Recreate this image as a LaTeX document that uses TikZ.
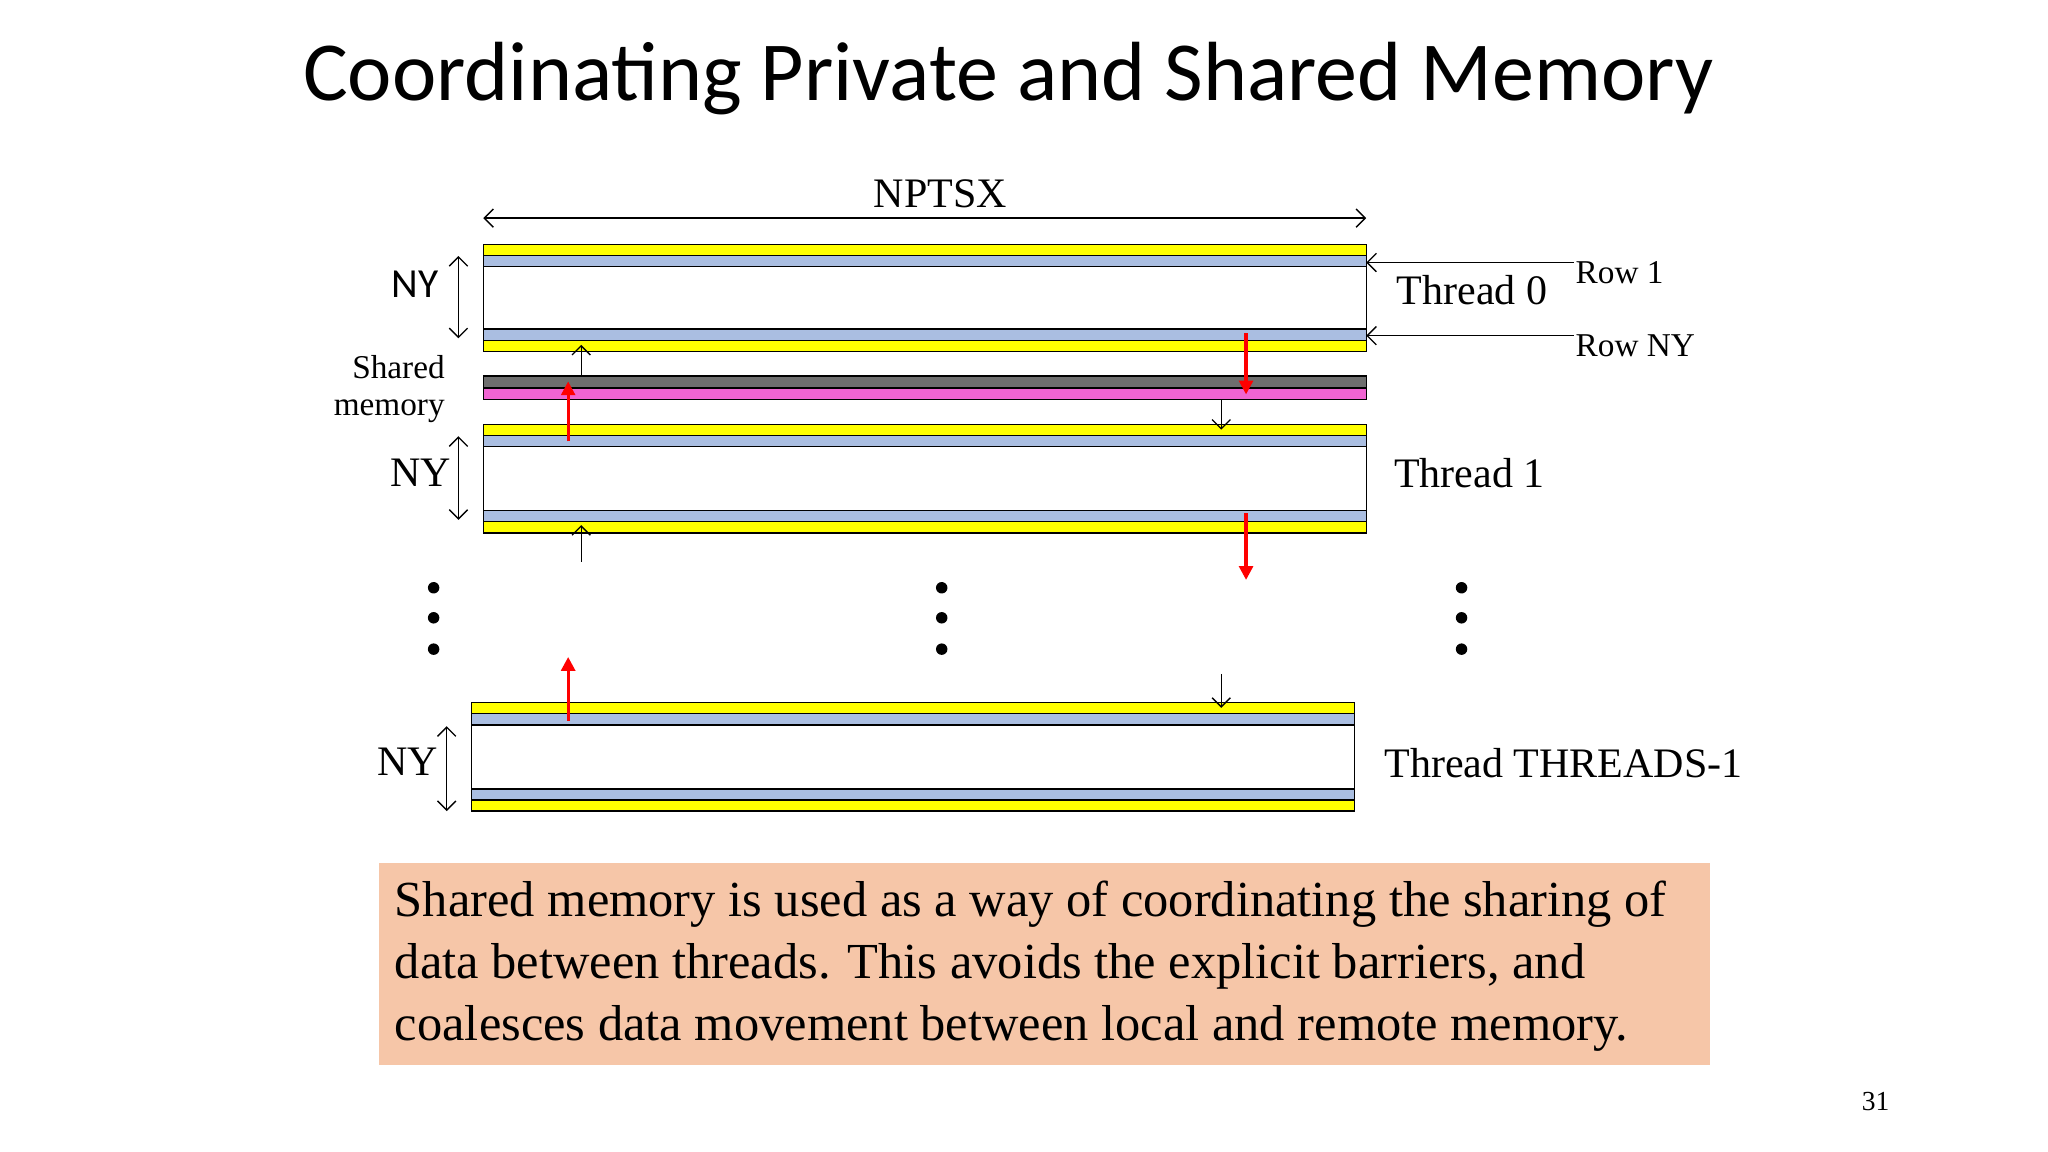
\documentclass[tikz,border=0pt]{standalone}
\usepackage{fontspec}
\setmainfont{Liberation Serif}
\newfontfamily\titlefont{Carlito}
\usetikzlibrary{arrows.meta}
\definecolor{ylw}{RGB}{255,255,0}
\definecolor{blu}{RGB}{170,190,225}
\definecolor{gry}{RGB}{110,110,110}
\definecolor{pnk}{RGB}{240,100,210}
\definecolor{peach}{RGB}{246,198,168}
\tikzset{
 strip/.style={draw=black,line width=0.6pt},
 thin/.style={-{Straight Barb[length=4pt]},line width=0.6pt},
 redar/.style={-{Triangle[length=6pt,width=6pt]},red,line width=1.4pt},
 dual/.style={{Straight Barb[length=4pt]}-{Straight Barb[length=4pt]},line width=0.6pt},
 lbl/.style={font=\fontsize{18.3}{21}\selectfont,inner sep=0pt},
 dot/.style={circle,fill=black,inner sep=0pt,minimum size=5pt}
}
\newcommand{\blockfill}[4]{%
 \fill[ylw,strip] (#1,#3) rectangle (#2,#3+8.5);
 \fill[blu,strip] (#1,#3+8.5) rectangle (#2,#3+17);
 \draw[strip] (#1,#3+17) rectangle (#2,#4-17);
 \fill[blu,strip] (#1,#4-17) rectangle (#2,#4-8.5);
 \fill[ylw,strip] (#1,#4-8.5) rectangle (#2,#4);
}
\begin{document}
\begin{tikzpicture}[x=0.02cm,y=-0.02cm]
\fill[white] (0,0) rectangle (1568,882);
\node[font=\titlefont\fontsize{36.6}{42}\selectfont] (title) at (772,60) {Coordinating Private and Shared Memory};
% NPTSX
\coordinate (nl) at (370,167); \coordinate (nr) at (1046,167);
\draw[dual] (nl) -- (nr);
\node[lbl] (npt) at (720,148) {NPTSX};
% blocks
\blockfill{370}{1046}{187}{269}
\fill[gry,strip] (370,288) rectangle (1046,297);
\fill[pnk,strip] (370,297) rectangle (1046,306);
\blockfill{370}{1046}{325}{408}
\blockfill{361}{1037}{538}{621}
% NY arrows
\coordinate (a1) at (351,196); \coordinate (b1) at (351,259);
\draw[dual] (a1) -- (b1);
\node[font=\titlefont\fontsize{18}{20}\selectfont] (ny0) at (318,218) {NY};
\coordinate (a2) at (351,334); \coordinate (b2) at (351,398);
\draw[dual] (a2) -- (b2);
\node[lbl] (ny1) at (322,362) {NY};
\coordinate (a3) at (342,556); \coordinate (b3) at (342,621);
\draw[dual] (a3) -- (b3);
\node[lbl] (ny2) at (312,583) {NY};
% rows
\coordinate (r1s) at (1205,201); \coordinate (r1e) at (1046,201);
\coordinate (r2s) at (1205,257); \coordinate (r2e) at (1046,257);
\draw[thin] (r1s) -- (r1e);
\draw[thin] (r2s) -- (r2e);
\node[font=\fontsize{14.5}{16}\selectfont] (row1) at (1240,209) {Row 1};
\node[font=\fontsize{14.5}{16}\selectfont] (rowny) at (1252,265) {Row NY};
\node[lbl] (t0) at (1127,222) {Thread 0};
\node[lbl] (t1) at (1125,362) {Thread 1};
\node[lbl] (t2) at (1197,584) {Thread THREADS-1};
\node[align=right,font=\fontsize{14.5}{16}\selectfont] (sm) at (298,298) {Shared\\memory};
% black small arrows
\coordinate (k1s) at (445,288); \coordinate (k1e) at (445,264);
\coordinate (k2s) at (935,306); \coordinate (k2e) at (935,329);
\coordinate (k3s) at (445,430); \coordinate (k3e) at (445,402);
\coordinate (k4s) at (935,516); \coordinate (k4e) at (935,542);
\foreach \s/\e in {k1s/k1e,k2s/k2e,k3s/k3e,k4s/k4e} \draw[thin] (\s) -- (\e);
% red arrows
\coordinate (q1s) at (435,338); \coordinate (q1e) at (435,292);
\coordinate (q2s) at (954,255); \coordinate (q2e) at (954,302);
\coordinate (q3s) at (954,393); \coordinate (q3e) at (954,444);
\coordinate (q4s) at (435,552); \coordinate (q4e) at (435,503);
\foreach \s/\e in {q1s/q1e,q2s/q2e,q3s/q3e,q4s/q4e} \draw[redar] (\s) -- (\e);
% dots
\foreach \x/\n in {332/a,721/b,1119/c} \foreach \y/\m in {450/1,473/2,497/3}
 \node[dot] (d\n\m) at (\x,\y) {};
% text box
\fill[peach] (290,661) rectangle (1309,815);
\node[anchor=west,align=left,font=\fontsize{22}{27}\selectfont,inner sep=0pt] (txt) at (302,740)
 {Shared memory is used as a way of coordinating the sharing of\\data between threads. This avoids the explicit barriers, and\\coalesces data movement between local and remote memory.};
\node[font=\fontsize{12}{14}\selectfont] (pg) at (1436,843) {31};
\end{tikzpicture}
\end{document}
